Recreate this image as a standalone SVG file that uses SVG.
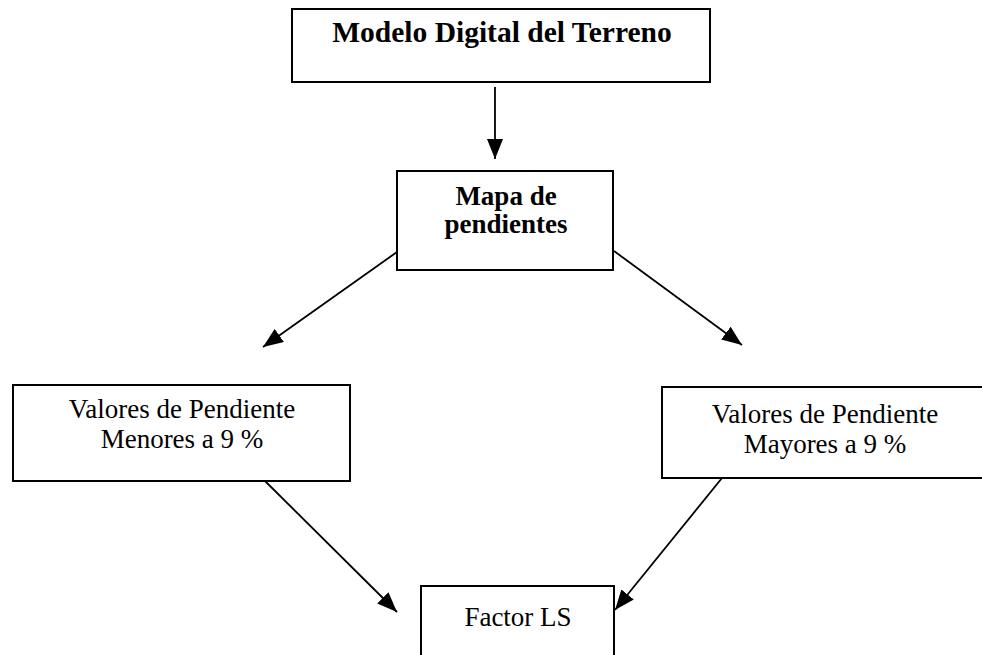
<svg xmlns="http://www.w3.org/2000/svg" width="982" height="655" viewBox="0 0 982 655">
  <defs>
    <marker id="arrow" viewBox="0 0 20 16" refX="20" refY="8" markerWidth="20" markerHeight="16" markerUnits="userSpaceOnUse" orient="auto">
      <path d="M0,0 L20,8 L0,16 Z" fill="#000"/>
    </marker>
    <style>
      .box { fill: #fff; stroke: #000; stroke-width: 2; }
      .txt { font-family: "Liberation Serif", "Times New Roman", serif; font-size: 27px; fill: #000; text-anchor: middle; }
      .bold { font-weight: bold; }
      .conn { stroke: #000; stroke-width: 1.8; fill: none; marker-end: url(#arrow); }
    </style>
  </defs>
  <rect width="982" height="655" fill="#fff"/>

  <g id="connectors">
    <line class="conn" x1="495" y1="87" x2="495" y2="159"/>
    <line class="conn" x1="397" y1="252" x2="263" y2="347"/>
    <line class="conn" x1="614" y1="251" x2="742" y2="345"/>
    <line class="conn" x1="265" y1="481" x2="397" y2="612"/>
    <line class="conn" x1="722" y1="478" x2="615" y2="610"/>
  </g>

  <g id="mdt">
    <rect class="box" x="292" y="9" width="418" height="73"/>
    <text class="txt bold" x="502" y="42" style="font-size:29.5px">Modelo Digital del Terreno</text>
  </g>

  <g id="mapa-pendientes">
    <rect class="box" x="397" y="171" width="216" height="99"/>
    <text class="txt bold" x="506" y="205">Mapa de</text>
    <text class="txt bold" x="506" y="233">pendientes</text>
  </g>

  <g id="menores">
    <rect class="box" x="13" y="385" width="337" height="96"/>
    <text class="txt" x="182" y="418">Valores de Pendiente</text>
    <text class="txt" x="182" y="448">Menores a 9 %</text>
  </g>

  <g id="mayores">
    <rect class="box" x="662" y="387" width="326" height="91"/>
    <text class="txt" x="825" y="423">Valores de Pendiente</text>
    <text class="txt" x="825" y="453">Mayores a 9 %</text>
  </g>

  <g id="factor-ls">
    <rect class="box" x="421" y="586" width="193" height="90"/>
    <text class="txt" x="518" y="626">Factor LS</text>
  </g>
</svg>
